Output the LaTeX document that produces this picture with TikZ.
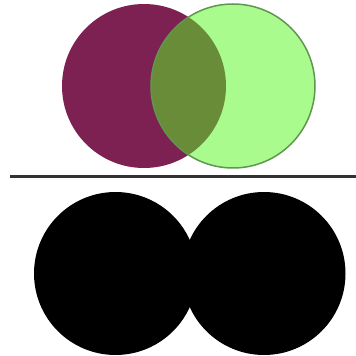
\documentclass[tikz,border=0pt]{standalone}
\definecolor{plum}{RGB}{125,33,82}
\definecolor{lime}{RGB}{84,248,30}
\definecolor{limeedge}{RGB}{95,150,80}
\definecolor{rule}{RGB}{50,50,50}
\begin{document}
\begin{tikzpicture}[x=1pt,y=1pt,
  disc/.style={circle,inner sep=0pt,minimum size=#1}]
\useasboundingbox (0,0) rectangle (356,356);
% top: overlapping circles
\node[disc=164pt,fill=plum] (pc) at (144,270) {};
\node[disc=164pt,fill=lime,fill opacity=0.5,draw=limeedge,line width=1.5pt] (gc) at (233,270) {};
% separating line
\coordinate (la) at (10,179);
\coordinate (lb) at (356,179);
\draw[rule,line width=3pt] (la) -- (lb);
% bottom: black circles
\node[disc=163pt,fill=black] (bl) at (115.5,82.5) {};
\node[disc=163pt,fill=black] (br) at (264,82.5) {};
\end{tikzpicture}
\end{document}
